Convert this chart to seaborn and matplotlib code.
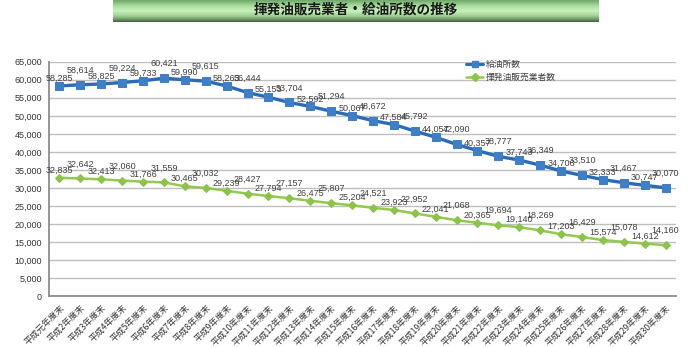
import numpy as np
import pandas as pd
import matplotlib
matplotlib.use("Agg")
import matplotlib.pyplot as plt
import seaborn as sns
from matplotlib.colors import LinearSegmentedColormap
from matplotlib.lines import Line2D
from matplotlib import font_manager

years = ["平成元年度末"] + [f"平成{i}年度末" for i in range(2, 31)]
stations = [58285, 58614, 58825, 59224, 59733, 60421, 59990, 59615, 58263, 56444,
            55153, 53704, 52592, 51294, 50067, 48672, 47584, 45792, 44057, 42090,
            40357, 38777, 37743, 36349, 34706, 33510, 32333, 31467, 30747, 30070]
sellers = [32835, 32642, 32413, 32060, 31766, 31559, 30465, 30032, 29239, 28427,
           27794, 27157, 26475, 25807, 25204, 24521, 23923, 22952, 22041, 21068,
           20365, 19694, 19140, 18269, 17203, 16429, 15574, 15078, 14612, 14160]
series_names = ["給油所数", "揮発油販売業者数"]
title = "揮発油販売業者・給油所数の推移"

sns.set_theme(style="white")
plt.rcParams["font.family"] = ["Noto Sans CJK JP", "DejaVu Sans"]

installed = {f.name for f in font_manager.fontManager.ttflist}
num_family = ["Liberation Sans Narrow", "Noto Sans CJK JP"] if "Liberation Sans Narrow" in installed \
    else ["Liberation Sans", "Noto Sans CJK JP"]

df = pd.DataFrame({
    "idx": list(range(len(years))) * 2,
    "value": stations + sellers,
    "series": [series_names[0]] * len(years) + [series_names[1]] * len(years),
})

fig = plt.figure(figsize=(7.0, 3.47), dpi=100)
ax = fig.add_axes([49 / 700, 1 - 296.3 / 347, 627 / 700, 234.6 / 347])

blue = "#2B6CB5"
green = "#93C94E"
palette = {series_names[0]: blue, series_names[1]: green}
markers = {series_names[0]: "s", series_names[1]: "D"}

sns.lineplot(data=df, x="idx", y="value", hue="series", style="series",
             palette=palette, markers=markers, dashes=False, ax=ax, legend=False)
lines = ax.get_lines()
lines[0].set_linewidth(2.4)
lines[0].set_markersize(6)
lines[0].set_markerfacecolor("#3F7FC8")
lines[0].set_markeredgecolor("#3F7FC8")
lines[1].set_linewidth(1.8)
lines[1].set_markersize(4.5)
lines[1].set_markerfacecolor("#8CC44A")
lines[1].set_markeredgecolor("#8CC44A")

ax.set_xlim(-0.5, len(years) - 0.5)
ax.set_ylim(0, 65000)
ax.set_yticks(np.arange(0, 65001, 5000))
ax.set_yticklabels([f"{v:,}" for v in range(0, 65001, 5000)], fontsize=6.5,
                   color="#333333", family=num_family)
ax.yaxis.grid(True, color="#BFBFBF", linewidth=1.0)
ax.set_axisbelow(True)
ax.set_xticks(range(len(years)))
ax.set_xticklabels(years, rotation=45, ha="right", rotation_mode="anchor",
                   fontsize=6.3, color="#333333")
ax.set_xticks(np.arange(-0.5, len(years), 1), minor=True)
ax.tick_params(axis="x", which="major", length=0, pad=5)
ax.tick_params(axis="x", which="minor", length=3, color="#888888", direction="out")
ax.tick_params(axis="y", length=3, color="#888888", direction="out", pad=2)
ax.set_xlabel("")
ax.set_ylabel("")
for s in ["top", "right"]:
    ax.spines[s].set_visible(False)
ax.spines["left"].set_color("#888888")
ax.spines["bottom"].set_color("#888888")

for vals in (stations, sellers):
    for i, v in enumerate(vals):
        off = 5.5 if i % 2 == 0 else 10.5
        ax.annotate(f"{v:,}", (i, v), xytext=(0, off), textcoords="offset points",
                    ha="center", va="center", fontsize=6.5, color="#404040",
                    family=num_family)

handles = [Line2D([], [], color=blue, lw=2.2, marker="s", markersize=5,
                  markerfacecolor="#3F7FC8", markeredgecolor="#3F7FC8"),
           Line2D([], [], color=green, lw=1.8, marker="D", markersize=4,
                  markerfacecolor="#8CC44A", markeredgecolor="#8CC44A")]
fig.legend(handles, series_names, loc="upper left",
           bbox_to_anchor=(458 / 700, 1 - 52 / 347), frameon=False,
           fontsize=6.3, handlelength=2.0, handletextpad=0.3, labelspacing=0.5,
           labelcolor="#404040")

bax = fig.add_axes([113 / 700, 1 - 22 / 347, 486 / 700, 22 / 347])
cmap = LinearSegmentedColormap.from_list(
    "banner", [(0.0, "#6FA86A"), (0.25, "#A8DC9C"), (0.5, "#C8F2BC"),
               (0.75, "#9ACB8E"), (0.92, "#5E8A58"), (1.0, "#4A5A48")])
grad = np.linspace(0, 1, 64).reshape(-1, 1)
bax.imshow(grad, aspect="auto", cmap=cmap, extent=[0, 1, 0, 1], origin="upper")
bax.set_xlim(0, 1)
bax.set_ylim(0, 1)
bax.axis("off")
bax.text(0.5, 0.55, title, ha="center", va="center", fontsize=9.8,
         fontweight="bold", color="#1A1A1A")

fig.savefig("out.png", dpi=100)
